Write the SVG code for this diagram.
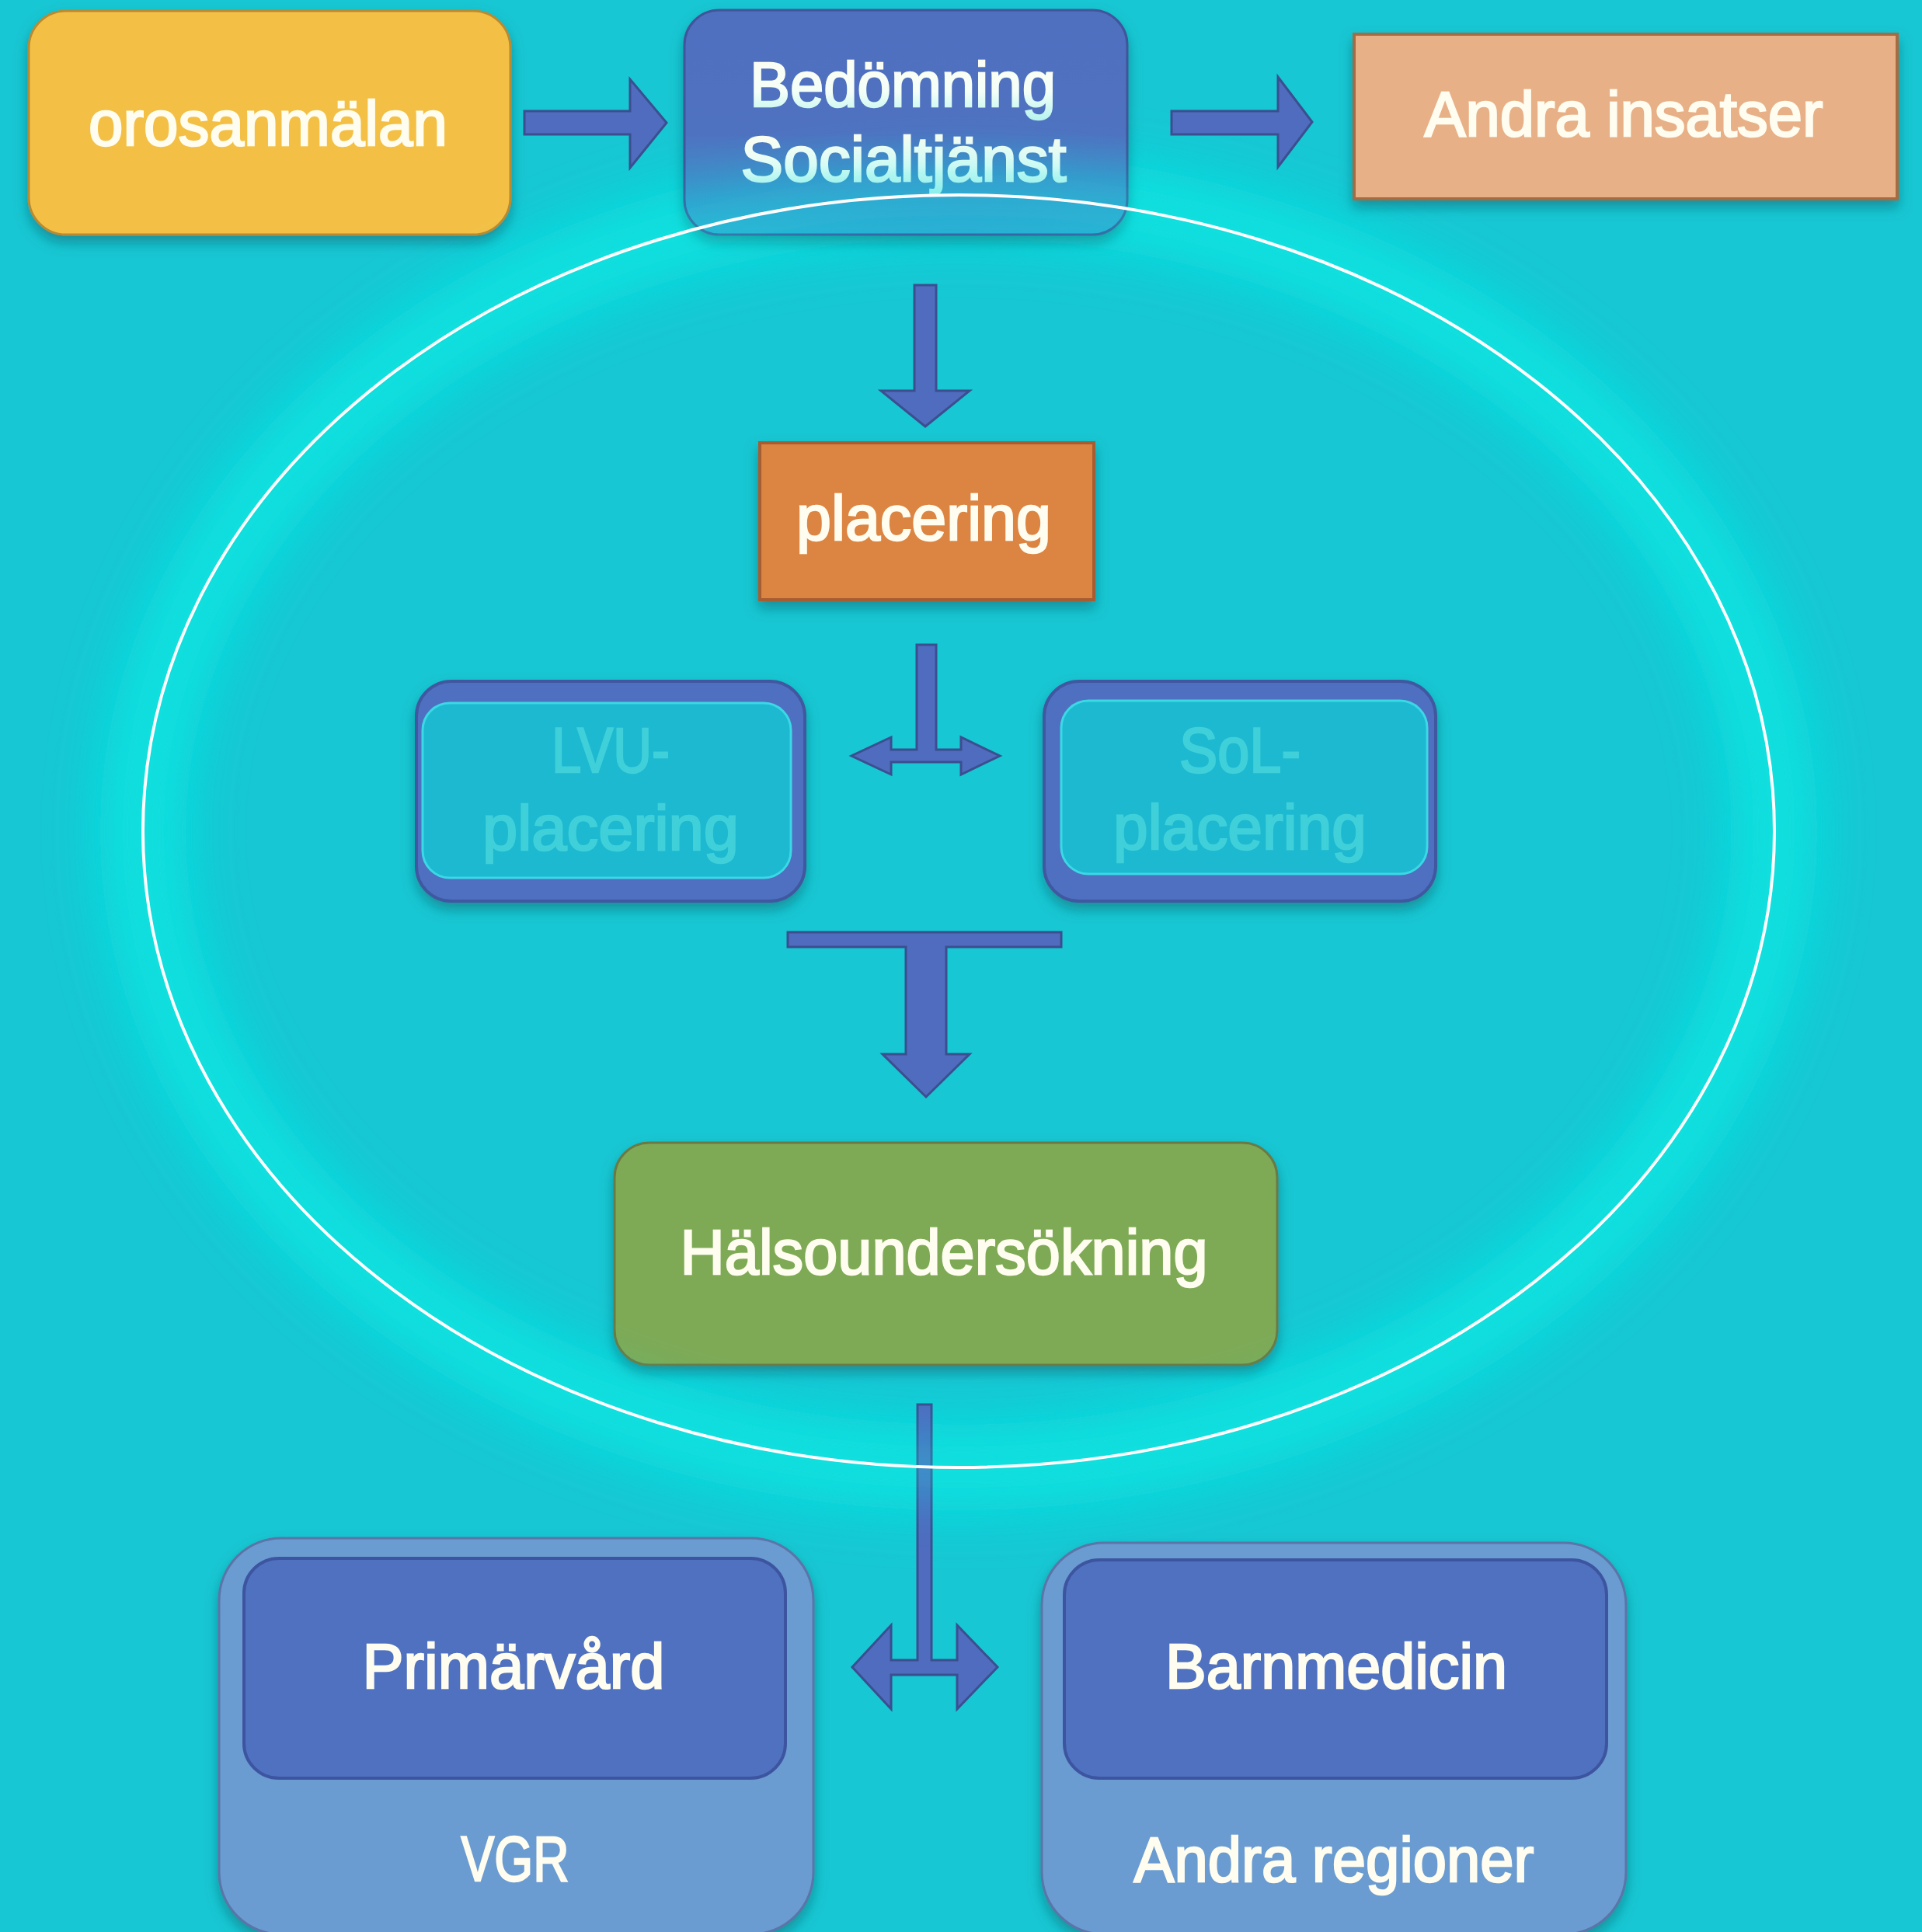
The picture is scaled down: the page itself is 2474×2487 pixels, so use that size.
<svg xmlns="http://www.w3.org/2000/svg" width="2474" height="2487" viewBox="0 0 2474 2487">
<defs>
<style>
.t{font-family:"Liberation Sans",Arial,sans-serif;font-size:82px;fill:#fffdf0;stroke:#fffdf0;stroke-width:2.5;text-anchor:middle}
.f{fill:#3fd0da;stroke:#3fd0da}
.arr{fill:#4f6cbf;stroke:#3b4f8f;stroke-width:3;stroke-linejoin:miter}
</style>
<filter id="sh" x="-10%" y="-10%" width="120%" height="130%">
<feDropShadow dx="0" dy="9" stdDeviation="8" flood-color="#0a6c78" flood-opacity="0.6"/>
</filter>
<filter id="glow" x="-20%" y="-20%" width="140%" height="140%">
<feGaussianBlur stdDeviation="35"/>
</filter>
<linearGradient id="bedg" x1="0" y1="0" x2="0" y2="1">
<stop offset="0" stop-color="#4f6fbf"/>
<stop offset="0.55" stop-color="#4f72c0"/>
<stop offset="1" stop-color="#2eaad2"/>
</linearGradient>
<linearGradient id="bedt" x1="0" y1="0" x2="0" y2="1">
<stop offset="0" stop-color="#fffdf0"/>
<stop offset="0.6" stop-color="#f4fff8"/>
<stop offset="1" stop-color="#b8f4ee"/>
</linearGradient>
</defs>
<rect width="2474" height="2487" fill="#17c7d3"/>
<ellipse cx="1234" cy="1070" rx="1050" ry="819" fill="none" stroke="#0ee2e0" stroke-width="110" filter="url(#glow)" opacity="0.9"/>

<g id="connectors">
<path class="arr" d="M675,143 H811 V102 L858,158 L811,216 V173 H675 Z"/>
<path class="arr" d="M1508,143 H1645 V99 L1689,157 L1645,215 V173 H1508 Z"/>
<path class="arr" d="M1177,367 H1205 V503 H1248 L1191,549 L1134,503 H1177 Z"/>
<path class="arr" d="M1180,830 H1205 V965 H1237 V949 L1287,973 L1237,997 V981 H1147 V997 L1096,973 L1147,949 V965 H1180 Z"/>
<path class="arr" d="M1014,1200 H1366 V1219 H1218 V1357 H1248 L1192,1412 L1136,1357 H1166 V1219 H1014 Z"/>
<path class="arr" d="M1181,1808 H1199 V2137 H1232 V2092 L1284,2146 L1232,2200 V2156 H1147 V2200 L1097,2146 L1147,2092 V2137 H1181 Z"/>
</g>

<g id="orosanmalan" filter="url(#sh)">
<rect x="37" y="14" width="620" height="288" rx="48" fill="#f3c044" stroke="#b88a30" stroke-width="3"/>
<text class="t" x="345" y="187" textLength="462" lengthAdjust="spacingAndGlyphs">orosanmälan</text>
</g>

<g id="bedomning" filter="url(#sh)">
<rect x="881" y="13" width="570" height="289" rx="45" fill="url(#bedg)" stroke="#40559a" stroke-width="3"/>
<text class="t" x="1162" y="137" textLength="394" lengthAdjust="spacingAndGlyphs" style="fill:url(#bedt);stroke:url(#bedt)">Bedömning</text>
<text class="t" x="1163" y="233" textLength="419" lengthAdjust="spacingAndGlyphs" style="fill:url(#bedt);stroke:url(#bedt)">Socialtjänst</text>
</g>

<g id="andra-insatser" filter="url(#sh)">
<rect x="1743" y="44" width="699" height="212" fill="#e8b087" stroke="#a86a40" stroke-width="4"/>
<text class="t" x="2090" y="175" textLength="513" lengthAdjust="spacingAndGlyphs">Andra insatser</text>
</g>

<g id="placering" filter="url(#sh)">
<rect x="978" y="570" width="430" height="202" fill="#dc8442" stroke="#a65d33" stroke-width="4"/>
<text class="t" x="1189" y="695" textLength="328" lengthAdjust="spacingAndGlyphs">placering</text>
</g>

<g id="lvu-placering" filter="url(#sh)">
<rect x="536" y="877" width="500" height="283" rx="45" fill="#5070c0" stroke="#3f58a0" stroke-width="4"/>
<rect x="544" y="905" width="474" height="225" rx="35" fill="#1fb9d0" stroke="#3ad8e6" stroke-width="3"/>
<text class="t f" x="786" y="994" textLength="152" lengthAdjust="spacingAndGlyphs">LVU-</text>
<text class="t f" x="786" y="1094" textLength="330" lengthAdjust="spacingAndGlyphs">placering</text>
</g>

<g id="sol-placering" filter="url(#sh)">
<rect x="1344" y="877" width="504" height="283" rx="45" fill="#5070c0" stroke="#3f58a0" stroke-width="4"/>
<rect x="1366" y="902" width="471" height="223" rx="35" fill="#1fb9d0" stroke="#3ad8e6" stroke-width="3"/>
<text class="t f" x="1596" y="994" textLength="156" lengthAdjust="spacingAndGlyphs">SoL-</text>
<text class="t f" x="1596" y="1093" textLength="326" lengthAdjust="spacingAndGlyphs">placering</text>
</g>

<g id="halsoundersokning" filter="url(#sh)">
<rect x="791" y="1471" width="853" height="286" rx="45" fill="#7eaa56" stroke="#6b7a45" stroke-width="3"/>
<text class="t" x="1215" y="1640" textLength="679" lengthAdjust="spacingAndGlyphs">Hälsoundersökning</text>
</g>

<g id="vgr" filter="url(#sh)">
<rect x="282" y="1980" width="765" height="510" rx="80" fill="#6b9bd1" stroke="#5a74a8" stroke-width="3"/>
<rect x="314" y="2006" width="697" height="283" rx="45" fill="#5071bf" stroke="#3c55a0" stroke-width="4"/>
<text class="t" x="661" y="2173" textLength="389" lengthAdjust="spacingAndGlyphs">Primärvård</text>
<text class="t" x="663" y="2421" textLength="139" lengthAdjust="spacingAndGlyphs">VGR</text>
</g>

<g id="andra-regioner" filter="url(#sh)">
<rect x="1341" y="1986" width="752" height="504" rx="80" fill="#6b9bd1" stroke="#5a74a8" stroke-width="3"/>
<rect x="1370" y="2008" width="698" height="281" rx="45" fill="#5071bf" stroke="#3c55a0" stroke-width="4"/>
<text class="t" x="1720" y="2173" textLength="440" lengthAdjust="spacingAndGlyphs">Barnmedicin</text>
<text class="t" x="1717" y="2422" textLength="515" lengthAdjust="spacingAndGlyphs">Andra regioner</text>
</g>

<ellipse cx="1234" cy="1070" rx="1050" ry="819" fill="none" stroke="#0ee2e0" stroke-width="60" filter="url(#glow)" opacity="0.45"/>
<ellipse cx="1234" cy="1070" rx="1050" ry="819" fill="none" stroke="#ffffff" stroke-width="4"/>
</svg>
